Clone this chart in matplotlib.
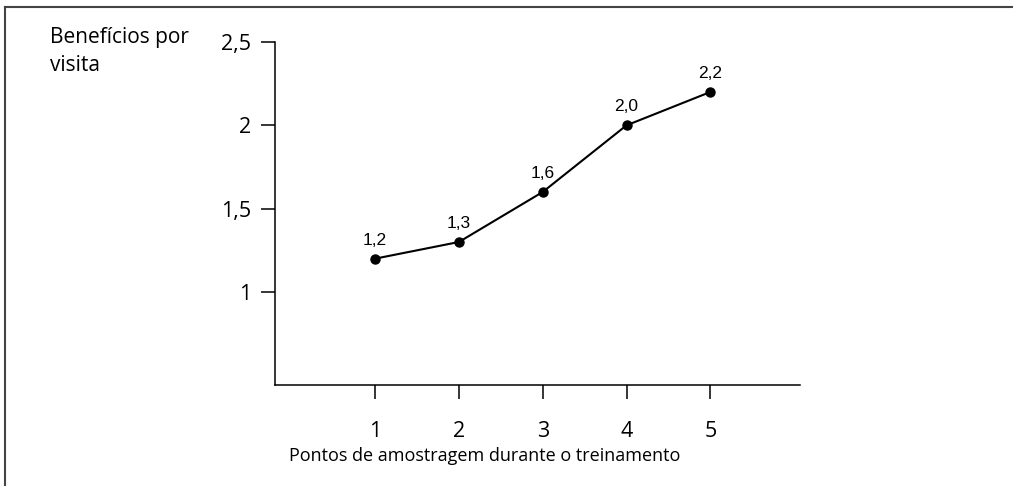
import matplotlib.pyplot as plt
from matplotlib.lines import Line2D

# dados do gráfico
pontos = [1, 2, 3, 4, 5]
beneficios = [1.2, 1.3, 1.6, 2.0, 2.2]
rotulos = ['1,2', '1,3', '1,6', '2,0', '2,2']
yticks = [1, 1.5, 2, 2.5]
ytick_labels = ['1', '1,5', '2', '2,5']

W, H = 1013, 486
fig = plt.figure(figsize=(W / 100, H / 100), dpi=100)
ax = fig.add_axes([275 / W, 1 - 385 / H, 525 / W, 343 / H])

ax.plot(pontos, beneficios, color='black', lw=1.5, marker='o', ms=6.5)
for x, y, t in zip(pontos, beneficios, rotulos):
    ax.annotate(t, (x, y), xytext=(0, 8), textcoords='offset points',
                ha='center', va='bottom', fontsize=12.5,
                fontfamily='Liberation Sans')

ax.set_xlim(-0.194, 6.07)
ax.set_ylim(0.442, 2.5)
ax.set_xticks(pontos)
ax.set_xticklabels([str(p) for p in pontos])
ax.set_yticks(yticks)
ax.set_yticklabels(ytick_labels)
ax.spines['top'].set_visible(False)
ax.spines['right'].set_visible(False)
for s in ['left', 'bottom']:
    ax.spines[s].set_linewidth(1.1)
ax.tick_params(axis='both', direction='out', length=10, width=1.1, labelsize=15.5)
ax.tick_params(axis='x', pad=16)
ax.tick_params(axis='y', pad=7)
for lab in ax.get_xticklabels() + ax.get_yticklabels():
    lab.set_family('Open Sans')

fig.text(50 / W, 1 - 27 / H, 'Benefícios por\nvisita', ha='left', va='top',
         fontsize=15, family='Open Sans', linespacing=1.45)
fig.text(485 / W, 1 - 456 / H, 'Pontos de amostragem durante o treinamento',
         ha='center', va='center', fontsize=13, family='Open Sans')

# moldura (só topo e lado esquerdo)
fig.add_artist(Line2D([4.5 / W, 1], [1 - 7.5 / H, 1 - 7.5 / H], color='#444444', lw=1.5))
fig.add_artist(Line2D([4.5 / W, 4.5 / W], [0, 1 - 7.5 / H], color='#444444', lw=1.5))

fig.savefig('out.png', dpi=100)
